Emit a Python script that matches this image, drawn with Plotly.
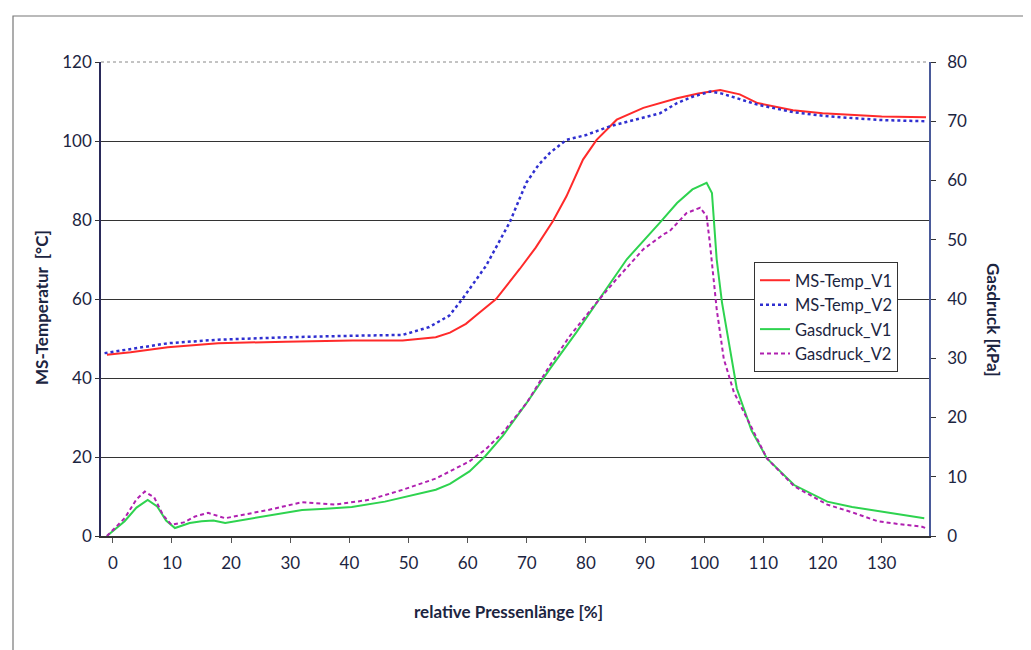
import plotly.graph_objects as go

# ---- data ----
temp_v1_x = [-1, 3, 9.3, 17.8, 29.2, 40.5, 49, 54.6, 57, 59.7, 61.4, 64.8, 68.8, 71.5, 74.4, 76.7, 79.5,
             81.8, 85.2, 89.7, 95.4, 99, 102.7, 106, 109, 115, 120, 125, 130, 137.5]
temp_v1_y = [45.9, 46.5, 47.8, 48.8, 49.2, 49.5, 49.5, 50.3, 51.5, 53.7, 55.8, 60, 67.6, 73, 79.7, 86, 95.3,
             100.3, 105.4, 108.4, 110.8, 112, 112.9, 111.8, 109.6, 107.8, 107, 106.6, 106.2, 106.0]

temp_v2_x = [-1.4, 3, 9.3, 17.8, 29.2, 40.5, 49, 53.5, 56.9, 59.1, 63.1, 67.1, 69.9, 72, 73.9, 76.7, 80,
             84, 89.7, 92.5, 95.4, 98, 101, 103, 106, 109, 115, 120, 125, 130, 137.5]
temp_v2_y = [46.3, 47.3, 48.8, 49.7, 50.3, 50.7, 50.9, 52.9, 55.8, 60, 68.4, 79.4, 89.4, 94, 97, 100.3, 101.5,
             103.7, 105.8, 107, 109.6, 111.2, 112.5, 112, 110.6, 109.2, 107.3, 106.4, 105.8, 105.3, 105]

gas_v1_x = [-1, 2, 4, 5.9, 7.5, 9, 10.5, 13, 15, 17, 19, 22, 26.3, 32, 36, 40.4, 46, 51.8, 54.6, 57, 60.3,
            63, 66, 70, 73.9, 78.4, 82.3, 86.9, 92.5, 95.4, 98, 100.4, 101.3, 102.1, 103, 104.4, 105.5, 108,
            110.6, 115.2, 120.8, 125, 129.3, 137.2]
gas_v1_y = [0, 2.5, 4.8, 6.1, 5.0, 2.6, 1.35, 2.2, 2.5, 2.6, 2.2, 2.7, 3.4, 4.4, 4.6, 4.9, 5.8, 7.2, 7.8, 8.8, 10.9,
            13.5, 17, 22.5, 28.2, 34.4, 40, 46.7, 52.9, 56.2, 58.5, 59.6, 57.9, 46.7, 39.4, 31, 24.9, 17.8,
            13.1, 8.6, 5.8, 4.9, 4.2, 3.0]

gas_v2_x = [-1, 2, 4, 5.4, 7, 8.5, 9.9, 12, 13.9, 16.1, 19, 22, 26.3, 32, 37.6, 43.3, 49, 54.6, 60.3, 63, 66,
            70, 73.9, 77.3, 81.8, 85.2, 89.7, 93.1, 94.2, 97, 99.3, 100.4, 101, 102.1, 103.3, 105, 107.8,
            110.6, 115.2, 120.8, 125, 129.3, 133, 136.7, 137.8]
gas_v2_y = [0, 3, 6.2, 7.5, 6.5, 3.5, 1.9, 2.3, 3.3, 3.9, 3.0, 3.6, 4.4, 5.7, 5.3, 6.1, 7.8, 9.7, 12.6, 14.6, 17.5,
            22.5, 28.8, 33.8, 39.4, 43.4, 48.4, 50.9, 51.5, 54.5, 55.4, 54, 49, 38.3, 29.9, 24.3, 18.7,
            13.1, 8.4, 5.3, 4.0, 2.5, 2.0, 1.6, 1.2]

x_ticks = list(range(0, 131, 10))
left_ticks = list(range(0, 121, 20))
right_ticks = list(range(0, 81, 10))

FONT = "Lato"
TXT = "#1c2541"

fig = go.Figure()
fig.add_trace(go.Scatter(x=temp_v1_x, y=temp_v1_y, name="MS-Temp_V1", mode="lines", legendgroup="a",
                         line=dict(color="#ff2a2a", width=2), yaxis="y"))
fig.add_trace(go.Scatter(x=temp_v2_x, y=temp_v2_y, name="MS-Temp_V2", mode="lines", legendgroup="b",
                         line=dict(color="#2f2fd0", width=2.5, dash="dot"), yaxis="y"))
fig.add_trace(go.Scatter(x=gas_v1_x, y=gas_v1_y, name="Gasdruck_V1", mode="lines", legendgroup="c",
                         line=dict(color="#2ed34f", width=2), yaxis="y2"))
fig.add_trace(go.Scatter(x=gas_v2_x, y=gas_v2_y, name="Gasdruck_V2", mode="lines", legendgroup="d",
                         line=dict(color="#b020b0", width=2, dash="4px,3px"), yaxis="y2"))

L, R, T, B = 93, 110, 54, 122
W, H = 1031, 650
pw, ph = W - L - R, H - T - B


def px(x):
    return (x - L) / pw


def py(y):
    return (H - B - y) / ph


fig.update_layout(
    width=W, height=H,
    margin=dict(l=L, r=R, t=T, b=B),
    paper_bgcolor="white", plot_bgcolor="white",
    font=dict(family=FONT, color=TXT, size=17),
    showlegend=True,
    legend=dict(x=px(746), y=py(254), xanchor="left", yanchor="top",
                bgcolor="white", bordercolor="#333", borderwidth=1,
                font=dict(size=16.5, color=TXT), tracegroupgap=5, traceorder="normal"),
    xaxis=dict(range=[-2, 138], tickvals=x_ticks, showgrid=False, zeroline=False,
               showline=True, linecolor="#333", linewidth=1.5,
               ticks="outside", ticklen=5, tickcolor="#555", ticklabelstandoff=6,
               tickfont=dict(size=17, color=TXT)),
    yaxis=dict(range=[0, 120], tickvals=left_ticks, showgrid=True, gridcolor="#333", gridwidth=1.2,
               zeroline=False, showline=True, linecolor="#2a2a5a", linewidth=1.5,
               ticks="outside", ticklen=4, tickcolor="#333",
               tickfont=dict(size=17, color=TXT)),
    yaxis2=dict(range=[0, 80], tickvals=right_ticks, overlaying="y", side="right",
                showgrid=False, zeroline=False, showline=True, linecolor="#4a5a9a", linewidth=1.5,
                ticks="outside", ticklen=5, tickcolor="#333", ticklabelstandoff=8,
                tickfont=dict(size=17, color=TXT)),
)

# cover the top gridline (plot-area border is dotted in the reference)
fig.add_shape(type="line", xref="paper", yref="paper", x0=0, x1=1, y0=1, y1=1,
              line=dict(color="white", width=3), layer="above")
fig.add_shape(type="line", xref="paper", yref="paper", x0=0, x1=1, y0=1, y1=1,
              line=dict(color="#888", width=1, dash="dot"), layer="above")
# outer chart frame
fig.add_shape(type="rect", xref="paper", yref="paper",
              x0=px(5), x1=px(1027), y0=py(646), y1=py(8),
              line=dict(color="#777", width=1.2), layer="below")

fig.add_annotation(text="MS-Temperatur  [°C]", xref="paper", yref="paper",
                   x=px(33), y=py(300), textangle=-90, showarrow=False,
                   xanchor="center", yanchor="middle",
                   font=dict(size=17, color=TXT, weight="bold"))
fig.add_annotation(text="Gasdruck [kPa]", xref="paper", yref="paper",
                   x=px(986), y=py(312), textangle=90, showarrow=False,
                   xanchor="center", yanchor="middle",
                   font=dict(size=17, color=TXT, weight="bold"))
fig.add_annotation(text="relative Pressenlänge [%]", xref="paper", yref="paper",
                   x=px(500), y=py(603), showarrow=False,
                   xanchor="center", yanchor="middle",
                   font=dict(size=17, color=TXT, weight="bold"))

fig.write_html("out.html")
